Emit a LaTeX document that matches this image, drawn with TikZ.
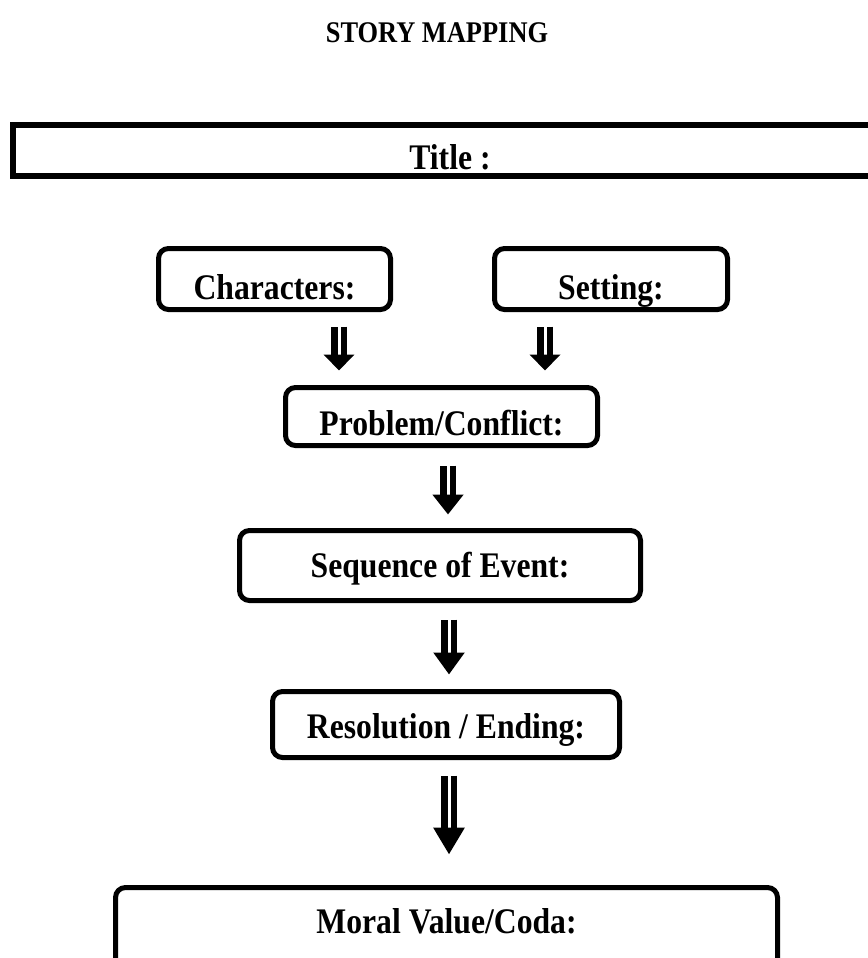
\documentclass[tikz,border=0pt]{standalone}
\usepackage{fontspec}
\setmainfont{Liberation Serif}[FakeStretch=0.88]
\usetikzlibrary{arrows.meta}
\newdimen\px \px=0.75pt
\tikzset{
  storybox/.style={draw=black, line width=5\px, rounded corners=10\px, fill=white,
    inner sep=0pt, text depth=0pt, align=center,
    font=\fontsize{27pt}{30pt}\selectfont\bfseries},
  titlebox/.style={draw=black, line width=6\px, inner sep=0pt, text depth=0pt,
    font=\fontsize{27pt}{30pt}\selectfont\bfseries},
  fatarrow/.style={draw=black, double=white, double distance=2.25pt, line width=4.7pt},
  tipS/.style={-{Triangle[width=22.5pt,length=12pt]}},
  tipM/.style={-{Triangle[width=22.5pt,length=15pt]}},
  tipN/.style={-{Triangle[width=22.5pt,length=16.5pt]}},
  tipL/.style={-{Triangle[width=22.5pt,length=20.25pt]}},
}
\begin{document}
\begin{tikzpicture}[x=0.75pt,y=-0.75pt]
\useasboundingbox (0,0) rectangle (868,958);
\clip (0,0) rectangle (868,958);
% heading
\node[anchor=base, font=\fontsize{22.5pt}{26pt}\selectfont\bfseries] (head) at (437,42) {STORY MAPPING};
% title bar
\node[titlebox, minimum width=874\px, minimum height=51\px, text height=38\px] (title) at (450,150.5) {Title :};
% boxes
\node[storybox, minimum width=232\px, minimum height=61\px, text height=40\px] (char) at (274.5,279) {Characters:};
\node[storybox, minimum width=233\px, minimum height=61\px, text height=40\px] (set) at (611,279) {Setting:};
\node[storybox, minimum width=312\px, minimum height=58\px, text height=38\px] (prob) at (441.5,416.5) {Problem/Conflict:};
\node[storybox, minimum width=401\px, minimum height=70\px, text height=24\px] (seq) at (440,565.5) {Sequence of Event:};
\node[storybox, minimum width=347\px, minimum height=66\px, text height=27\px] (res) at (446,724.5) {Resolution / Ending:};
\node[storybox, minimum width=662\px, minimum height=85\px, text height=7\px] (moral) at (446.5,930) {Moral Value/Coda:};
% arrows
\draw[fatarrow, tipS] ([xshift=48.375pt, yshift=-10.875pt]char.south) -- ([xshift=-76.875pt, yshift=10.875pt]prob.north);
\draw[fatarrow, tipS] ([xshift=-49.5pt, yshift=-10.875pt]set.south) -- ([xshift=77.625pt, yshift=10.875pt]prob.north);
\draw[fatarrow, tipM] ([xshift=4.875pt, yshift=-13.125pt]prob.south) -- ([xshift=6pt, yshift=10.125pt]seq.north);
\draw[fatarrow, tipN] ([xshift=6.75pt, yshift=-12.375pt]seq.south) -- ([xshift=2.25pt, yshift=10.875pt]res.north);
\draw[fatarrow, tipL] ([xshift=2.25pt, yshift=-11.625pt]res.south) -- ([xshift=1.875pt, yshift=22.875pt]moral.north);
\end{tikzpicture}
\end{document}
